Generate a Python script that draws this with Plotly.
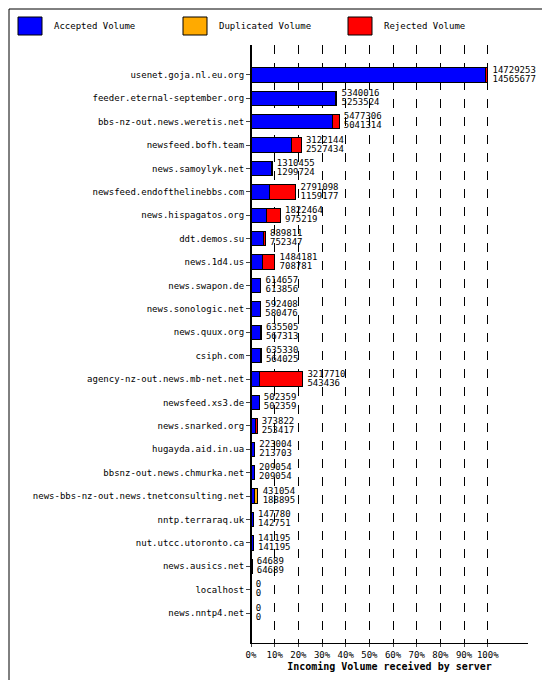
import plotly.graph_objects as go

servers = ["usenet.goja.nl.eu.org","feeder.eternal-september.org","bbs-nz-out.news.weretis.net",
"newsfeed.bofh.team","news.samoylyk.net","newsfeed.endofthelinebbs.com","news.hispagatos.org",
"ddt.demos.su","news.1d4.us","news.swapon.de","news.sonologic.net","news.quux.org","csiph.com",
"agency-nz-out.news.mb-net.net","newsfeed.xs3.de","news.snarked.org","hugayda.aid.in.ua",
"bbsnz-out.news.chmurka.net","news-bbs-nz-out.news.tnetconsulting.net","nntp.terraraq.uk",
"nut.utcc.utoronto.ca","news.ausics.net","localhost","news.nntp4.net"]
totals = [14729253,5340016,5477306,3122144,1310455,2791098,1822464,889811,1484181,614657,592408,
635505,635330,3217710,502359,373822,223004,209054,431054,147780,141195,64689,0,0]
accepted = [14565677,5253524,5041314,2527434,1299724,1159177,975219,752347,708781,613856,580476,
567313,564025,543436,502359,253417,213703,209054,188895,142751,141195,64689,0,0]
tail_kind = ["r","r","r","r","d","r","r","r","r","r","d","r","r","r","r","r","d","r","d","r","r","r","r","r"]

dup = [t-a if k=="d" else 0 for t,a,k in zip(totals,accepted,tail_kind)]
rej = [t-a if k=="r" else 0 for t,a,k in zip(totals,accepted,tail_kind)]
mx = max(totals)
font = dict(family="DejaVu Sans Mono", size=10, color="black")
sfont = dict(family="DejaVu Sans Mono", size=9, color="black")

L, R, T, B = 243, 30, 37, 45
PW, PH = 550 - L - R, 680 - T - B

fig = go.Figure()
legend_items = [("Accepted Volume", accepted, "#0000ff"),
                ("Duplicated Volume", dup, "#ffaa00"),
                ("Rejected Volume", rej, "#ff0000")]
for name, vals, col in legend_items:
    fig.add_bar(y=servers, x=vals, orientation="h", name=name, width=0.62,
                marker=dict(color=col, line=dict(color="black", width=1)), showlegend=False)
xs = [t + mx*0.02 for t in totals]
fig.add_scatter(y=servers, x=xs, mode="text", text=[str(t) for t in totals],
                textposition="top right", textfont=sfont, showlegend=False, cliponaxis=False)
fig.add_scatter(y=servers, x=xs, mode="text", text=[str(a) for a in accepted],
                textposition="bottom right", textfont=sfont, showlegend=False, cliponaxis=False)

shapes = [dict(type="rect", xref="paper", yref="paper", x0=-L/PW + 1/PW, x1=1 + R/PW - 1/PW,
               y0=-B/PH + 1/PH, y1=1 + T/PH - 1/PH, line=dict(color="black", width=1))]
annotations = []
for i, (name, _, col) in enumerate(legend_items):
    px0 = 10 + i*165
    x0 = (px0 - L) / PW
    shapes.append(dict(type="rect", xref="paper", yref="paper",
                       x0=x0, x1=x0 + 24/PW, y0=1 + 10/PH, y1=1 + 28/PH,
                       fillcolor=col, line=dict(color="black", width=1)))
    annotations.append(dict(xref="paper", yref="paper", x=x0 + 34/PW, y=1 + 19/PH,
                            text=name, showarrow=False, xanchor="left", yanchor="middle", font=sfont))

fig.update_layout(
    width=550, height=680, barmode="stack", plot_bgcolor="white", paper_bgcolor="white",
    margin=dict(l=L, r=R, t=T, b=B, autoexpand=False), font=font, showlegend=False,
    xaxis=dict(range=[0, mx*1.17], tickvals=[mx*i/10 for i in range(11)], automargin=False,
               ticktext=[f"{i*10}%" for i in range(11)], showgrid=True, tickangle=0, tickfont=sfont,
               gridcolor="black", griddash="dash", gridwidth=1, zeroline=True,
               zerolinecolor="black", showline=True, linecolor="black", ticks="outside", ticklen=3,
               title=dict(text="<b>Incoming Volume received by server</b>", font=font, standoff=4)),
    yaxis=dict(autorange="reversed", showline=True, linecolor="black", ticks="outside",
               ticklen=4, tickfont=sfont, automargin=False),
    shapes=shapes, annotations=annotations,
)
fig.write_html("out.html")
